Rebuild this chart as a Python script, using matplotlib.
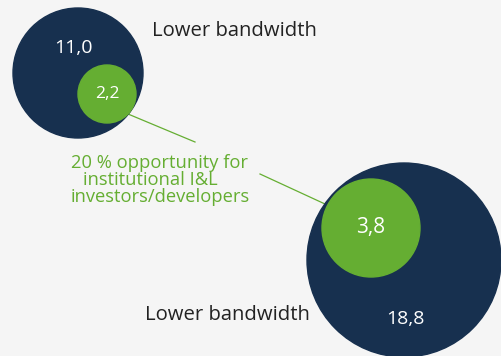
import matplotlib
matplotlib.use("Agg", force=True)
import matplotlib.pyplot as plt
from matplotlib.patches import Circle

plt.rcParams["font.family"] = ["Open Sans", "DejaVu Sans"]

# values shown in the bubbles
total_values = [11.0, 18.8]
share_values = [2.2, 3.8]
group_labels = ["Lower bandwidth", "Lower bandwidth"]
callout = "20 % opportunity for\ninstitutional I&L    \ninvestors/developers"

# layout (pixel space of the 501x356 canvas)
total_xy = [(78, 73), (404, 260)]
total_r = [65, 97]
share_xy = [(107, 94), (371, 228)]
share_r = [29, 49]
total_text_xy = [(73, 48), (405, 319)]
label_xy = [(152, 31), (145, 315)]

NAVY = "#17304f"
GREEN = "#65ae32"
BG = "#f5f5f5"

fig = plt.figure(figsize=(5.01, 3.56), dpi=100)
fig.patch.set_facecolor(BG)
ax = fig.add_axes([0, 0, 1, 1])
ax.set_facecolor(BG)
ax.set_xlim(0, 501)
ax.set_ylim(356, 0)
ax.set_aspect("equal")
ax.axis("off")

# connector lines
ax.plot([128, 195], [114, 142], color=GREEN, lw=0.9, zorder=1)
ax.plot([260, 325], [174, 204], color=GREEN, lw=0.9, zorder=1)

fs_share = [12.5, 15]
for i in range(2):
    ax.add_patch(Circle(total_xy[i], total_r[i], color=NAVY, zorder=2))
    ax.add_patch(Circle(share_xy[i], share_r[i], color=GREEN, zorder=3))
    ax.text(*total_text_xy[i], f"{total_values[i]:.1f}".replace(".", ","),
            color="white", fontsize=14, ha="center", va="center", zorder=4)
    ax.text(*share_xy[i], f"{share_values[i]:.1f}".replace(".", ","),
            color="white", fontsize=fs_share[i], ha="center", va="center", zorder=4)
    ax.text(*label_xy[i], group_labels[i], color="#222222", fontsize=14.6,
            ha="left", va="center", zorder=4)

ax.text(160, 180, callout, color=GREEN, fontsize=13.2, ha="center", va="center",
        linespacing=0.95, multialignment="center", zorder=4)

fig.savefig("out.png", dpi=100, facecolor=BG)
